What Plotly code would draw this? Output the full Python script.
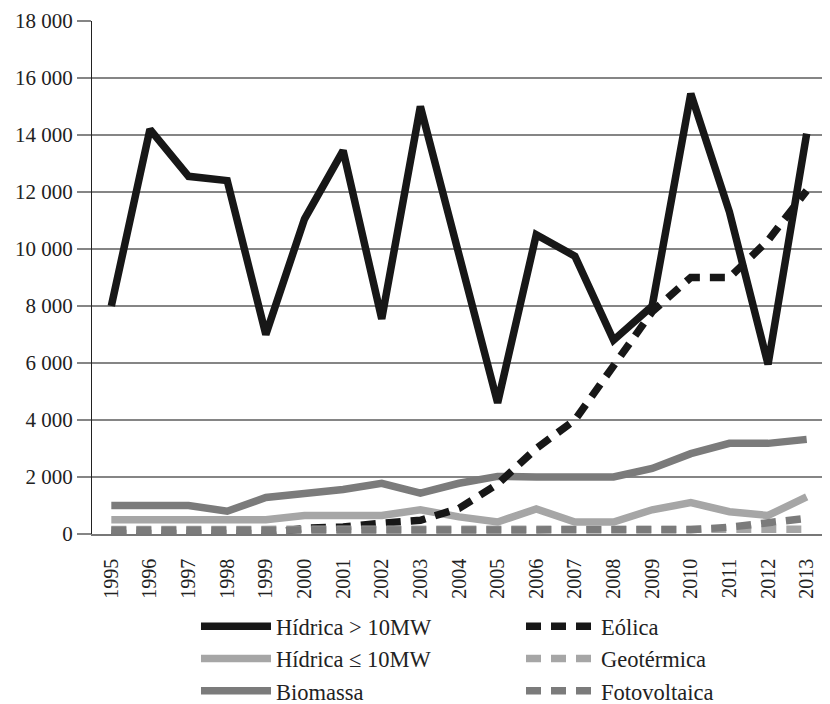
import plotly.graph_objects as go

years = [str(y) for y in range(1995, 2014)]

hidrica_gt10 = [8000, 14200, 12550, 12400, 7000, 11050, 13450, 7550, 15000, 9800,
                4600, 10500, 9750, 6800, 8000, 15450, 11300, 5950, 14050]
hidrica_le10 = [500, 500, 500, 500, 500, 650, 650, 650, 850, 600,
                420, 880, 420, 420, 850, 1100, 780, 650, 1300]
biomassa = [1000, 1000, 1000, 800, 1280, 1420, 1560, 1780, 1430, 1780,
            2020, 2000, 2000, 2000, 2300, 2820, 3180, 3180, 3320]
eolica = [20, 20, 20, 20, 20, 200, 250, 380, 480, 900,
          1750, 3000, 4000, 5900, 7800, 9000, 9000, 10300, 12050]
geotermica = [160, 160, 160, 160, 160, 160, 160, 160, 160, 160,
              160, 160, 160, 160, 160, 160, 160, 160, 170]
fotovoltaica = [130, 130, 130, 130, 130, 130, 130, 130, 130, 130,
                130, 130, 130, 130, 130, 150, 240, 400, 550]

BLACK = "#171717"
LIGHT = "#a6a6a6"
MID = "#7b7b7b"
DASH = "15px,10px"
W = 7.5

series = [
    ("Hídrica > 10MW", hidrica_gt10, BLACK, "solid", 1),
    ("Hídrica ≤ 10MW", hidrica_le10, LIGHT, "solid", 3),
    ("Biomassa", biomassa, MID, "solid", 5),
    ("Eólica", eolica, BLACK, DASH, 2),
    ("Geotérmica", geotermica, LIGHT, DASH, 4),
    ("Fotovoltaica", fotovoltaica, MID, DASH, 6),
]

fig = go.Figure()
for name, vals, color, dash, rank in series:
    fig.add_trace(go.Scatter(
        x=years, y=vals, name=name, mode="lines",
        line=dict(color=color, width=W, dash=dash),
        legendrank=rank,
    ))

FONT = "Liberation Serif"
fig.update_layout(
    width=822, height=696,
    margin=dict(l=84, r=4, t=13, b=170, autoexpand=False),
    paper_bgcolor="white", plot_bgcolor="white",
    separators=", ",
    font=dict(family=FONT, size=21, color="#222222"),
    showlegend=True,
    legend=dict(
        orientation="h", xref="container", yref="container",
        x=0.2287, xanchor="left", y=0.142, yanchor="top",
        entrywidth=240, entrywidthmode="pixels",
        itemwidth=70, traceorder="normal",
        font=dict(family=FONT, size=22.5, color="#222222"),
        tracegroupgap=0, borderwidth=0,
    ),
    xaxis=dict(
        type="category", tickangle=-90, showgrid=False,
        range=[-0.5, 18.5],
        showline=True, linecolor="#777777", linewidth=1.5,
        ticks="", ticklabelstandoff=15,
        tickfont=dict(family=FONT, size=20),
    ),
    yaxis=dict(
        range=[0, 18000], dtick=2000, tickformat=",d",
        showgrid=True, gridcolor="#858585", gridwidth=1.5,
        zeroline=False,
        showline=True, linecolor="#222222", linewidth=1,
        ticks="outside", ticklen=14, tickcolor="#858585", tickwidth=1.5,
        tickfont=dict(family=FONT, size=21),
    ),
)

fig.write_html("out.html")
